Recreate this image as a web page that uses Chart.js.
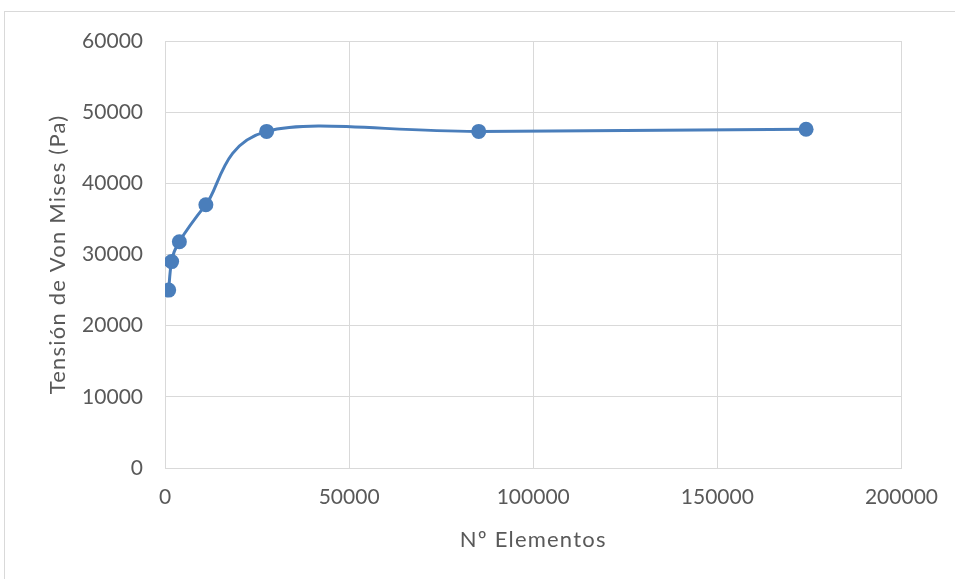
<!DOCTYPE html>
<html>
<head>
<meta charset="utf-8">
<script src="https://cdn.jsdelivr.net/npm/chart.js@4.4.1/dist/chart.umd.min.js"></script>
<style>
  html, body { margin: 0; padding: 0; background: #fff; overflow: hidden; }
  #frame { position: absolute; left: 4px; top: 11px; width: 980px; height: 600px;
           border: 1px solid #d9d9d9; box-sizing: border-box; }
  #wrap { position: absolute; left: 0; top: 0; width: 955px; height: 579px; }
</style>
</head>
<body>
<div id="frame"></div>
<div id="wrap"><canvas id="c" width="955" height="579"></canvas></div>
<script>
// Number of mesh elements vs. Von Mises stress
const elementos = [1000, 1800, 3900, 11100, 27600, 85200, 174100];
const tension   = [25000, 29000, 31800, 37000, 47300, 47300, 47600];

const xTicks = [0, 50000, 100000, 150000, 200000];
const yTicks = [0, 10000, 20000, 30000, 40000, 50000, 60000];

const xTitle = 'Nº Elementos';
const yTitle = 'Tensión de Von Mises (Pa)';

const points = elementos.map((x, i) => ({ x: x, y: tension[i] }));

const fontFamily = 'Lato, "Liberation Sans", sans-serif';
const textColor = '#595959';
const gridColor = '#d9d9d9';
const blue = '#4a7ebb';

// Smoothed line in the spreadsheet style: each control point sits at
// one sixth of the chord between the neighbouring points.
const smoothLine = {
  id: 'smoothLine',
  beforeDatasetDraw(chart, args) {
    const meta = args.meta;
    const line = meta.dataset;
    if (!line) return;
    line.updateControlPoints(chart.chartArea, meta.iScale.axis);
    const pts = meta.data;
    const n = pts.length;
    for (let i = 0; i < n; i++) {
      const p = pts[i];
      const a = pts[Math.max(i - 1, 0)];
      const b = pts[Math.min(i + 1, n - 1)];
      const dx = (b.x - a.x) / 6;
      const dy = (b.y - a.y) / 6;
      p.cp1x = p.x - dx; p.cp1y = p.y - dy;
      p.cp2x = p.x + dx; p.cp2y = p.y + dy;
    }
  }
};

// Slightly wider tracking for the axis titles
const titleSpacing = {
  id: 'titleSpacing',
  afterUpdate(chart) {
    Object.values(chart.scales).forEach(s => {
      if (s._spacedTitle) return;
      const orig = s.drawTitle;
      s.drawTitle = function () {
        const ctx = this.ctx;
        ctx.save();
        ctx.letterSpacing = '1.2px';
        orig.call(this);
        ctx.restore();
      };
      s._spacedTitle = true;
    });
  }
};

new Chart(document.getElementById('c'), {
  type: 'scatter',
  data: {
    datasets: [{
      data: points,
      showLine: true,
      tension: 0.3,
      borderColor: blue,
      backgroundColor: blue,
      borderWidth: 3,
      pointRadius: 7.5,
      pointHoverRadius: 7.5,
      pointBorderWidth: 0
    }]
  },
  plugins: [smoothLine, titleSpacing],
  options: {
    responsive: false,
    animation: false,
    devicePixelRatio: 1,
    layout: { padding: { left: 0, right: 53, top: 41, bottom: 0 } },
    plugins: { legend: { display: false }, tooltip: { enabled: false } },
    scales: {
      x: {
        type: 'linear',
        min: 0, max: 200000,
        afterBuildTicks: s => { s.ticks = xTicks.map(v => ({ value: v })); },
        afterFit: s => { s.height = 111; },
        grid: { color: gridColor, lineWidth: 1, drawTicks: false },
        border: { color: gridColor, width: 1 },
        ticks: { color: textColor, font: { family: fontFamily, size: 21 }, padding: 17,
                 maxRotation: 0, callback: v => String(v) },
        title: { display: true, text: xTitle, color: textColor,
                 font: { family: fontFamily, size: 22 }, padding: { top: 0, bottom: 26 } }
      },
      y: {
        type: 'linear',
        min: 0, max: 60000,
        afterBuildTicks: s => { s.ticks = yTicks.map(v => ({ value: v })); },
        afterFit: s => { s.width = 165; },
        grid: { color: gridColor, lineWidth: 1, drawTicks: false },
        border: { color: gridColor, width: 1 },
        ticks: { color: textColor, font: { family: fontFamily, size: 21 }, padding: 22,
                 callback: v => String(v) },
        title: { display: true, text: yTitle, color: textColor,
                 font: { family: fontFamily, size: 22 }, padding: { top: 45, bottom: 0 } }
      }
    }
  }
});
</script>
</body>
</html>
